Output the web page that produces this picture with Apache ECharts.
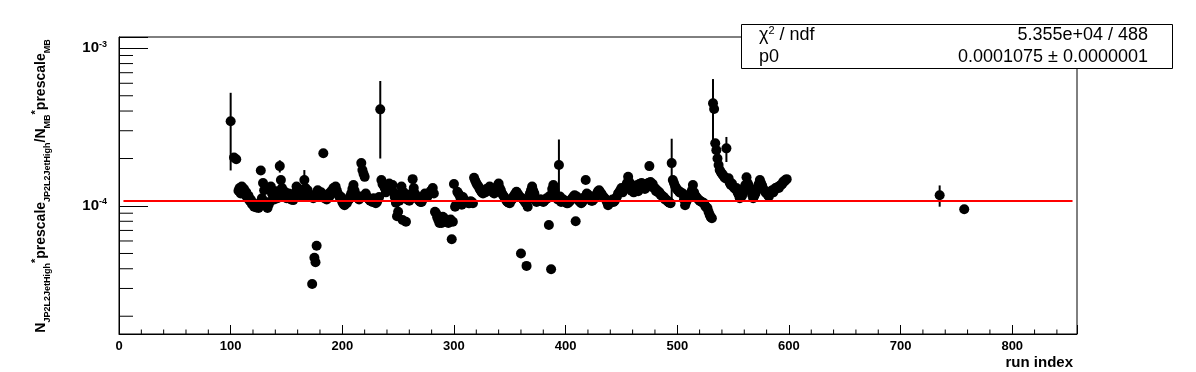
<!DOCTYPE html>
<html>
<head>
<meta charset="utf-8">
<script src="https://cdn.jsdelivr.net/npm/echarts@6/dist/echarts.min.js"></script>
<style>
  html, body { margin: 0; padding: 0; background: #fff; }
  #chart { width: 1196px; height: 372px; }
</style>
</head>
<body>
<div id="chart"></div>
<script>
// run index of the first entry of ratio
var firstRun = 100
// N*prescale(JP2L2JetHigh) / N*prescale(MB) per run, in units of 1e-4 (null = empty run)
var ratio = [
  3.45, null, null, 2.03, null, 1.98, null, 1.25, 1.30, 1.20,
  1.33, 1.24, 1.28, 1.18, 1.22, 1.12, 1.16, 1.08, 1.10, 1.03,
  1.05, 0.99, 1.02, 0.98, 1.01, 0.97, 1.04, 1.68, 1.12, 1.40,
  1.26, 1.06, 1.00, 0.97, 1.02, 1.06, 1.33, 1.20, 1.16, 1.10,
  1.14, 1.24, 1.12, 1.20, 1.79, 1.46, 1.30, 1.25, 1.18, 1.22,
  1.12, 1.15, 1.20, 1.16, 1.10, 1.12, 1.09, 1.14, 1.22, 1.33,
  1.25, 1.20, 1.27, 1.17, 1.14, 1.20, 1.46, 1.30, 1.22, 1.26,
  1.18, 1.14, 1.17, 0.32, 1.12, 0.47, 0.44, 0.56, 1.26, 1.20,
  1.16, 1.22, 1.14, 2.16, 1.12, 1.16, 1.10, 1.13, 1.20, 1.16,
  1.24, 1.22, 1.30, 1.27, 1.33, 1.26, 1.20, 1.16, 1.12, 1.14,
  1.06, 1.03, 1.01, 1.05, 1.04, 1.08, 1.10, 1.15, 1.20, 1.28,
  1.36, 1.25, 1.18, 1.14, 1.12, 1.10, 1.15, 1.87, 1.69, 1.60,
  1.53, 1.20, 1.15, 1.12, 1.10, 1.08, 1.09, 1.06, 1.12, 1.08,
  1.04, 1.06, 1.10, 1.14, 4.10, 1.46, 1.38, 1.35, 1.30, 1.22,
  1.25, 1.33, 1.39, 1.30, 1.28, 1.36, 1.22, 1.14, 1.05, 0.86,
  0.92, 1.08, 1.20, 1.33, 0.815, 1.22, 1.17, 0.795, 1.10, 1.12,
  1.08, 1.14, 1.20, 1.48, 1.30, 1.20, 1.16, 1.14, 1.10, 1.08,
  1.06, 1.06, 1.10, 1.16, 1.20, 1.16, 1.14, 1.18, 1.20, 1.24,
  1.26, 1.30, 1.20, 0.92, 0.90, 0.85, 0.815, 0.78, 0.80, 0.78,
  0.855, 0.84, 0.82, 0.80, 0.795, 0.78, 0.80, 0.82, 0.615, 0.795,
  1.38, 0.99, 1.02, 1.23, 1.20, 1.17, 1.12, 1.02, 1.14, 1.10,
  1.08, 1.06, 1.06, 1.04, 1.04, 1.07, 1.06, 1.04, 1.51, 1.45,
  1.40, 1.36, 1.33, 1.28, 1.25, 1.22, 1.20, 1.24, 1.22, 1.28,
  1.26, 1.30, 1.33, 1.28, 1.25, 1.22, 1.20, 1.26, 1.30, 1.34,
  1.39, 1.30, 1.26, 1.20, 1.17, 1.14, 1.12, 1.08, 1.06, 1.05,
  1.04, 1.08, 1.10, 1.14, 1.17, 1.20, 1.23, 1.20, 1.17, 1.14,
  0.50, 1.12, 1.10, 1.08, 1.05, 0.417, 0.99, 1.10, 1.20, 1.26,
  1.33, 1.25, 1.20, 1.12, 1.06, 1.08, 1.08, 1.10, 1.10, 1.08,
  1.06, 1.08, 1.10, 1.12, 1.12, 0.758, 1.16, 0.397, 1.28, 1.36,
  1.26, 1.17, 1.12, 1.10, 1.82, 1.15, 1.06, 1.08, 1.10, 1.07,
  1.06, 1.04, 1.04, 1.06, 1.08, 1.10, 1.12, 1.15, 1.17, 0.80,
  1.15, 1.10, 1.08, 1.06, 1.04, 1.06, 1.10, 1.14, 1.46, 1.20,
  1.18, 1.14, 1.12, 1.08, 1.08, 1.10, 1.12, 1.16, 1.20, 1.24,
  1.26, 1.22, 1.20, 1.16, 1.14, 1.12, 1.10, 1.06, 1.01, 1.04,
  1.05, 1.08, 1.10, 1.06, 1.08, 1.12, 1.15, 1.20, 1.22, 1.26,
  1.30, 1.22, 1.26, 1.30, 1.35, 1.40, 1.53, 1.42, 1.38, 1.25,
  1.33, 1.22, 1.30, 1.35, 1.35, 1.24, 1.38, 1.30, 1.40, 1.36,
  1.35, 1.28, 1.38, 1.32, 1.40, 1.79, 1.42, 1.38, 1.38, 1.30,
  1.30, 1.24, 1.26, 1.22, 1.22, 1.18, 1.17, 1.14, 1.14, 1.10,
  1.10, 1.08, 1.06, 1.05, 1.04, 1.87, 1.46, 1.40, 1.34, 1.30,
  1.27, 1.25, 1.22, 1.22, 1.20, 1.20, 1.10, 1.01, 1.06, 1.10,
  1.12, 1.15, 1.20, 1.25, 1.36, 1.22, 1.17, 1.14, 1.12, 1.10,
  1.08, 1.07, 1.06, 1.05, 1.04, 1.00, 0.98, 0.97, 0.92, 0.88,
  0.85, 0.836, 4.48, 4.12, 2.50, 2.26, 2.00, 1.82, 1.69, 1.64,
  1.60, 1.57, 1.53, 1.50, 2.32, 1.48, 1.50, 1.40, 1.36, 1.39,
  1.33, 1.30, 1.28, 1.30, 1.22, 1.18, 1.12, 1.14, 1.16, 1.22,
  1.30, 1.36, 1.52, 1.40, 1.35, 1.30, 1.26, 1.18, 1.12, 1.16,
  1.20, 1.26, 1.30, 1.38, 1.46, 1.40, 1.35, 1.28, 1.26, 1.22,
  1.20, 1.18, 1.15, 1.20, 1.24, 1.26, 1.22, 1.26, 1.30, 1.30,
  1.32, 1.30, 1.35, 1.36, 1.38, 1.43, 1.43, 1.46, 1.48
]
// the two late runs
var extraRuns = [735, 757]
var extraRatio = [1.17, 0.953]
// runs whose error bar sticks out of the marker, and the errors (1e-4)
var errRuns = [100, 144, 166, 234, 307, 394, 495, 532, 544, 583, 735]
var errSizes = [1.77, 0.16, 0.23, 2.1, 0.05, 0.82, 0.8, 1.9, 0.42, 0.1, 0.18]
// pol0 fit
var fitP0 = 1.075
var fitRange = [4, 854]
// stats box
var statChi2 = '5.355e+04'
var statNdf = '488'
var statP0 = '0.0001075'
var statP0Err = '0.0000001'

;(function () {
  var myChart = echarts.init(document.getElementById('chart'))
  var font = 'Liberation Sans, Arial, Helvetica, sans-serif'
  var xMax = 858
  var yMin = 0.1543
  var yMax = 11.79

  var points = []
  ratio.forEach(function (v, i) {
    if (v !== null) points.push([firstRun + i, v])
  })
  extraRuns.forEach(function (r, i) {
    points.push([r, extraRatio[i]])
  })
  function valueAt(run) {
    for (var i = 0; i < points.length; i++) {
      if (points[i][0] === run) return points[i][1]
    }
    return null
  }
  var errData = errRuns.map(function (r, i) {
    return [r, valueAt(r), errSizes[i]]
  })

  // minor ticks like ROOT: 2..9 per decade on y, every 20 on x
  var yMinor = []
  ;[0.1, 1, 10].forEach(function (d) {
    for (var k = 2; k <= 9; k++) {
      var v = +(k * d).toFixed(3)
      if (v > yMin && v < yMax) yMinor.push([0, v])
    }
  })
  var xMinor = []
  for (var t = 20; t < xMax; t += 20) {
    if (t % 100 !== 0) xMinor.push([t, yMin])
  }

  var option = {
    animation: false,
    backgroundColor: '#fff',
    textStyle: { fontFamily: font },
    grid: {
      left: 119,
      right: 119,
      top: 37,
      bottom: 38,
      show: true,
      borderColor: '#000',
      borderWidth: 1
    },
    xAxis: {
      type: 'value',
      min: 0,
      max: xMax,
      interval: 100,
      axisLine: { lineStyle: { color: '#000', width: 1 } },
      axisTick: { inside: true, length: 9, lineStyle: { color: '#000' } },
      axisLabel: {
        color: '#000',
        fontSize: 13,
        fontWeight: 'bold',
        fontFamily: font,
        margin: 6,
        formatter: function (v) {
          return v % 100 === 0 ? String(v) : ''
        }
      },
      splitLine: { show: false }
    },
    yAxis: {
      type: 'log',
      logBase: 10,
      min: yMin,
      max: yMax,
      axisLine: { show: true, lineStyle: { color: '#000', width: 1 } },
      axisTick: { show: true, inside: true, length: 29, lineStyle: { color: '#000' } },
      axisLabel: {
        margin: 12,
        formatter: function (v) {
          var l = Math.log10(v)
          if (Math.abs(l - Math.round(l)) > 1e-6) return ''
          return '{b|10}{s|' + (Math.round(l) - 4) + '}'
        },
        rich: {
          b: { fontSize: 15, fontWeight: 'bold', color: '#000', fontFamily: font, lineHeight: 17 },
          s: { fontSize: 9, fontWeight: 'bold', color: '#000', fontFamily: font, lineHeight: 9, verticalAlign: 'top' }
        }
      },
      splitLine: { show: false }
    },
    series: [
      {
        name: 'minor y',
        type: 'custom',
        clip: false,
        silent: true,
        data: yMinor,
        renderItem: function (params, api) {
          var p = api.coord([api.value(0), api.value(1)])
          return {
            type: 'line',
            shape: { x1: p[0], y1: p[1], x2: p[0] + 14, y2: p[1] },
            style: { stroke: '#000', lineWidth: 1 }
          }
        }
      },
      {
        name: 'minor x',
        type: 'custom',
        clip: false,
        silent: true,
        data: xMinor,
        renderItem: function (params, api) {
          var p = api.coord([api.value(0), api.value(1)])
          return {
            type: 'line',
            shape: { x1: p[0], y1: p[1], x2: p[0], y2: p[1] - 4.5 },
            style: { stroke: '#000', lineWidth: 1 }
          }
        }
      },
      {
        name: 'errors',
        type: 'custom',
        silent: true,
        data: errData,
        renderItem: function (params, api) {
          var x = api.value(0)
          var v = api.value(1)
          var e = api.value(2)
          var lo = api.coord([x, v - e])
          var hi = api.coord([x, v + e])
          return {
            type: 'line',
            shape: { x1: lo[0], y1: lo[1], x2: hi[0], y2: hi[1] },
            style: { stroke: '#000', lineWidth: 2 }
          }
        }
      },
      {
        name: 'ratio',
        type: 'scatter',
        symbol: 'circle',
        symbolSize: 10,
        data: points,
        itemStyle: { color: '#000', opacity: 1 }
      },
      {
        name: 'fit',
        type: 'line',
        symbol: 'none',
        data: [[fitRange[0], fitP0], [fitRange[1], fitP0]],
        lineStyle: { color: '#ff0000', width: 2 },
        z: 5
      }
    ],
    graphic: [
      {
        type: 'rect',
        z: 100,
        shape: { x: 741.5, y: 24.5, width: 431, height: 44 },
        style: { fill: '#fff', stroke: '#000', lineWidth: 1 }
      },
      {
        type: 'text',
        z: 101,
        x: 759,
        y: 35,
        style: {
          text: '{c|χ}{s|2}{c| / ndf}',
          verticalAlign: 'middle',
          rich: {
            c: { fontSize: 18, fontFamily: font, fill: '#000', lineHeight: 20 },
            s: { fontSize: 11, fontFamily: font, fill: '#000', lineHeight: 11, verticalAlign: 'top' }
          }
        }
      },
      {
        type: 'text',
        z: 101,
        x: 1148,
        y: 35,
        style: {
          text: statChi2 + ' / ' + statNdf,
          font: '18px ' + font,
          fill: '#000',
          align: 'right',
          verticalAlign: 'middle'
        }
      },
      {
        type: 'text',
        z: 101,
        x: 759,
        y: 57,
        style: { text: 'p0', font: '18px ' + font, fill: '#000', verticalAlign: 'middle' }
      },
      {
        type: 'text',
        z: 101,
        x: 1148,
        y: 57,
        style: {
          text: statP0 + ' \u00b1 ' + statP0Err,
          font: '18px ' + font,
          fill: '#000',
          align: 'right',
          verticalAlign: 'middle'
        }
      },
      {
        // axis titles
        type: 'text',
        x: 1073,
        y: 363,
        style: {
          text: 'run index',
          font: 'bold 15px ' + font,
          fill: '#000',
          align: 'right',
          verticalAlign: 'middle'
        }
      },
      {
        type: 'text',
        x: 41,
        y: 186,
        rotation: Math.PI / 2,
        style: {
          text: '{m|N}{b|JP2L2JetHigh}{t|*}{m|prescale}{b|JP2L2JetHigh}{m|/N}{b|MB}{t|*}{m|prescale}{b|MB}',
          align: 'center',
          verticalAlign: 'middle',
          rich: {
            m: { fontSize: 14, fontWeight: 'bold', fontFamily: font, fill: '#000', lineHeight: 22 },
            b: { fontSize: 9, fontWeight: 'bold', fontFamily: font, fill: '#000', lineHeight: 10, verticalAlign: 'bottom' },
            t: { fontSize: 11, fontWeight: 'bold', fontFamily: font, fill: '#000', lineHeight: 11, verticalAlign: 'top' }
          }
        }
      }
    ]
  }

  myChart.setOption(option)
  window.addEventListener('resize', function () {
    myChart.resize()
  })
})()
</script>
</body>
</html>
